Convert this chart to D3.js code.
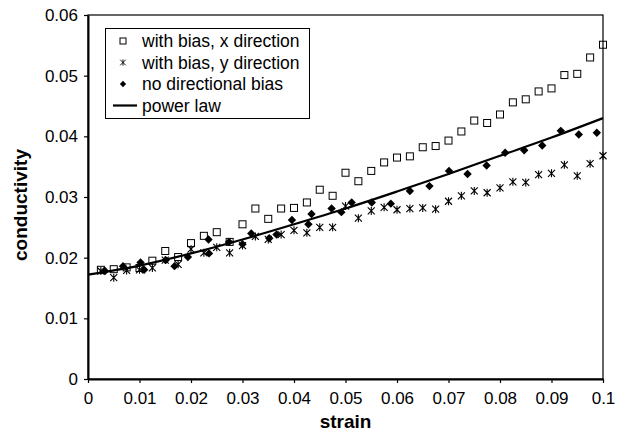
<!DOCTYPE html>
<html>
<head>
<meta charset="utf-8">
<script src="https://cdn.jsdelivr.net/npm/d3@7"></script>
<style>
  body { margin: 0; background: #fff; }
  svg { display: block; font-family: Arial, "Liberation Sans", sans-serif; }
</style>
</head>
<body>
<div id="chart"></div>
<script>
// strain values shared by the two "with bias" series
var biasStrain = [0.0025, 0.005, 0.0075, 0.01, 0.0125, 0.015, 0.0175, 0.02, 0.0225, 0.025,
    0.0275, 0.03, 0.0325, 0.035, 0.0375, 0.04, 0.0425, 0.045, 0.0475, 0.05,
    0.0525, 0.055, 0.0575, 0.06, 0.0625, 0.065, 0.0675, 0.07, 0.0725, 0.075,
    0.0775, 0.08, 0.0825, 0.085, 0.0875, 0.09, 0.0925, 0.095, 0.0975, 0.1];

var xBiasCond = [0.0180, 0.0181, 0.0184, 0.0183, 0.0195, 0.0211, 0.0201, 0.0224, 0.0236, 0.0242,
    0.0226, 0.0255, 0.0281, 0.0264, 0.0281, 0.0282, 0.0291, 0.0312, 0.0302, 0.0340,
    0.0326, 0.0343, 0.0357, 0.0365, 0.0367, 0.0382, 0.0384, 0.0393, 0.0408, 0.0426,
    0.0422, 0.0436, 0.0456, 0.0461, 0.0474, 0.0479, 0.0501, 0.0503, 0.0530, 0.0551];

var yBiasCond = [0.0178, 0.0167, 0.0179, 0.0180, 0.0183, 0.0196, 0.0189, 0.0214, 0.0208, 0.0217,
    0.0208, 0.0220, 0.0235, 0.0230, 0.0238, 0.0245, 0.0241, 0.0250, 0.0250, 0.0285,
    0.0265, 0.0277, 0.0283, 0.0279, 0.0281, 0.0282, 0.0280, 0.0293, 0.0302, 0.0310,
    0.0307, 0.0315, 0.0325, 0.0324, 0.0337, 0.0339, 0.0353, 0.0335, 0.0355, 0.0368];

var noBiasStrain = [0.0033, 0.0068, 0.0102, 0.0109, 0.0151, 0.0168, 0.0194, 0.0234, 0.0235, 0.0274,
    0.0300, 0.0317, 0.0352, 0.0366, 0.0396, 0.0428, 0.0434, 0.0473, 0.0492, 0.0512,
    0.0551, 0.0588, 0.0625, 0.0663, 0.0701, 0.0737, 0.0774, 0.0810, 0.0847, 0.0882,
    0.0918, 0.0953, 0.0988];
var noBiasCond = [0.0178, 0.0186, 0.0192, 0.0180, 0.0196, 0.0186, 0.0201, 0.0230, 0.0207, 0.0226,
    0.0222, 0.0240, 0.0232, 0.0238, 0.0262, 0.0255, 0.0272, 0.0281, 0.0275, 0.0291,
    0.0291, 0.0289, 0.0310, 0.0318, 0.0343, 0.0338, 0.0352, 0.0373, 0.0377, 0.0385,
    0.0409, 0.0403, 0.0406];

// fitted power law curve
var powerStrain = [0, 0.01, 0.02, 0.03, 0.04, 0.05, 0.06, 0.07, 0.08, 0.09, 0.1];
var powerCond = [0.0172, 0.0187, 0.0207, 0.0230, 0.0255, 0.0281, 0.0309, 0.0338, 0.0368, 0.0398, 0.0430];

var xTicks = [0, 0.01, 0.02, 0.03, 0.04, 0.05, 0.06, 0.07, 0.08, 0.09, 0.1];
var xTickLabels = ["0", "0.01", "0.02", "0.03", "0.04", "0.05", "0.06", "0.07", "0.08", "0.09", "0.1"];
var yTicks = [0, 0.01, 0.02, 0.03, 0.04, 0.05, 0.06];
var yTickLabels = ["0", "0.01", "0.02", "0.03", "0.04", "0.05", "0.06"];

var legendNames = ["with bias, x direction", "with bias, y direction", "no directional bias", "power law"];

(function() {
    var width = 625;
    var height = 433;
    var left = 88, right = 603, top = 15, bottom = 379;

    var svg = d3.select("#chart").append("svg")
        .attr("width", width)
        .attr("height", height);

    var x = d3.scaleLinear().domain([0, 0.1]).range([left, right]);
    var y = d3.scaleLinear().domain([0, 0.06]).range([bottom, top]);

    // frame
    svg.append("rect")
        .attr("x", left).attr("y", top)
        .attr("width", right - left).attr("height", bottom - top)
        .attr("fill", "none").attr("stroke", "#000").attr("stroke-width", 1.2);

    var xAxis = svg.append("g")
        .attr("transform", "translate(0," + bottom + ")")
        .call(d3.axisBottom(x).tickValues(xTicks)
            .tickFormat(function(d, i) { return xTickLabels[i]; })
            .tickSizeInner(4).tickSizeOuter(0).tickPadding(9));
    var yAxis = svg.append("g")
        .attr("transform", "translate(" + left + ",0)")
        .call(d3.axisLeft(y).tickValues(yTicks)
            .tickFormat(function(d, i) { return yTickLabels[i]; })
            .tickSizeInner(4).tickSizeOuter(0).tickPadding(6));

    [xAxis, yAxis].forEach(function(g) {
        g.select(".domain").attr("stroke", "#000").attr("stroke-width", 2);
        g.selectAll(".tick line").attr("stroke", "#000").attr("stroke-width", 1.2);
        g.selectAll("text").attr("font-size", 17).attr("fill", "#000")
            .style("font-family", "Arial, 'Liberation Sans', sans-serif");
    });

    svg.append("text")
        .attr("x", (left + right) / 2).attr("y", 428)
        .attr("text-anchor", "middle")
        .attr("font-size", 19).attr("font-weight", "bold")
        .text("strain");
    svg.append("text")
        .attr("transform", "translate(27," + ((top + bottom) / 2 + 8) + ") rotate(-90)")
        .attr("text-anchor", "middle")
        .attr("font-size", 19).attr("font-weight", "bold")
        .text("conductivity");

    var starPath = "M-3.5,-3.5L3.5,3.5M-3.5,3.5L3.5,-3.5M0,-4L0,4";
    var diamondPath = "M0,-4.2L4.2,0L0,4.2L-4.2,0Z";

    // power law line
    var line = d3.line()
        .x(function(d) { return x(d[0]); })
        .y(function(d) { return y(d[1]); })
        .curve(d3.curveMonotoneX);
    svg.append("path")
        .datum(d3.zip(powerStrain, powerCond))
        .attr("d", line)
        .attr("fill", "none").attr("stroke", "#000").attr("stroke-width", 2.2);

    // with bias, x direction
    svg.append("g").selectAll("rect")
        .data(d3.zip(biasStrain, xBiasCond))
        .enter().append("rect")
        .attr("x", function(d) { return x(d[0]) - 3.5; })
        .attr("y", function(d) { return y(d[1]) - 3.5; })
        .attr("width", 7).attr("height", 7)
        .attr("fill", "none")
        .attr("stroke", "#000").attr("stroke-width", 1);

    // with bias, y direction
    svg.append("g").selectAll("path")
        .data(d3.zip(biasStrain, yBiasCond))
        .enter().append("path")
        .attr("transform", function(d) { return "translate(" + x(d[0]) + "," + y(d[1]) + ")"; })
        .attr("d", starPath)
        .attr("stroke", "#000").attr("stroke-width", 1.1).attr("fill", "none");

    // no directional bias
    svg.append("g").selectAll("path")
        .data(d3.zip(noBiasStrain, noBiasCond))
        .enter().append("path")
        .attr("transform", function(d) { return "translate(" + x(d[0]) + "," + y(d[1]) + ")"; })
        .attr("d", diamondPath)
        .attr("fill", "#000");

    // legend
    var lg = svg.append("g");
    lg.append("rect")
        .attr("x", 105.5).attr("y", 28.5).attr("width", 204).attr("height", 90)
        .attr("fill", "#fff").attr("stroke", "#000").attr("stroke-width", 1);
    var rowY = [41, 62.5, 84, 105.5];
    legendNames.forEach(function(name, i) {
        var cy = rowY[i];
        var mx = 123;
        if (i === 0) {
            lg.append("rect").attr("x", mx - 3).attr("y", cy - 3).attr("width", 6).attr("height", 6)
                .attr("fill", "none").attr("stroke", "#000").attr("stroke-width", 1);
        } else if (i === 1) {
            lg.append("path").attr("transform", "translate(" + mx + "," + cy + ") scale(0.8)")
                .attr("d", starPath).attr("stroke", "#000").attr("stroke-width", 1.1);
        } else if (i === 2) {
            lg.append("path").attr("transform", "translate(" + mx + "," + cy + ") scale(0.75)")
                .attr("d", diamondPath).attr("fill", "#000");
        } else {
            lg.append("line").attr("x1", 113).attr("x2", 137).attr("y1", cy).attr("y2", cy)
                .attr("stroke", "#000").attr("stroke-width", 2.2);
        }
        lg.append("text")
            .attr("x", 142).attr("y", cy + 6)
            .attr("font-size", 17.5)
            .text(name);
    });
})();
</script>
</body>
</html>
